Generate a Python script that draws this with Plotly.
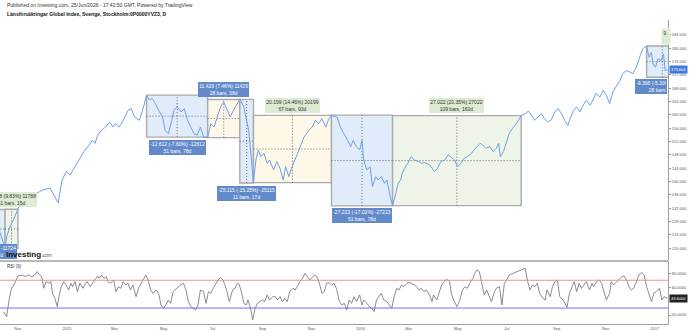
import pandas as pd
import plotly.graph_objects as go

BASE_DATE = "2015-01-01"   # day offsets below are counted from this date

# ---------------- price (close) ----------------
price_day = [-92, -88, -84, -80, -77, -75, -71, -65, -61, -58, -55, -46, -37, -30, -21, -11, -6, -1, 4, 10,
             15, 21, 26, 32, 35, 38, 43, 48, 53, 57, 60, 65, 70, 76, 80, 84, 90, 93, 96, 99,
             102, 106, 110, 114, 119, 122, 126, 130, 133, 137, 142, 146, 150, 154, 158, 162, 166, 170, 175, 179,
             183, 187, 191, 195, 199, 203, 207, 212, 215, 220, 223, 226, 228, 230, 232, 235, 238, 241, 245, 249,
             252, 257, 261, 265, 269, 272, 276, 280, 283, 287, 291, 295, 301, 305, 309, 313, 317, 322, 325, 329,
             332, 336, 340, 345, 349, 353, 356, 360, 364, 367, 369, 373, 377, 380, 384, 387, 391, 395, 398, 402,
             405, 409, 412, 415, 417, 420, 424, 428, 432, 437, 441, 445, 449, 453, 457, 461, 465, 470, 474, 477,
             482, 486, 490, 494, 498, 503, 506, 510, 514, 517, 521, 526, 530, 534, 537, 539, 543, 547, 550, 554,
             559, 565, 570, 574, 578, 582, 586, 590, 594, 598, 602, 607, 611, 615, 619, 623, 626, 630, 634, 638,
             642, 646, 651, 655, 658, 663, 667, 671, 675, 679, 684, 688, 691, 696, 700, 704, 708, 712, 716, 721,
             724, 727, 729, 732, 735, 739, 742, 744, 747]
price_val = [131600, 128800, 125200, 121800, 119920, 123400, 126400, 129400, 131710, 133600, 134500, 135400, 136600, 137500, 138100, 133600, 140500, 143000, 142000, 144500,
             146500, 149000, 150500, 152400, 151500, 153900, 155400, 156400, 157900, 156400, 157400, 156400, 158400, 161400, 161900, 159400, 158400, 160400, 163000, 165950,
             164600, 164900, 163400, 161400, 159400, 155400, 154400, 157900, 161400, 162400, 160900, 161900, 158400, 156400, 154400, 153900, 156400, 153400, 153200, 157400,
             156400, 159400, 162400, 163900, 161400, 159400, 161400, 163400, 164690, 162400, 158400, 155400, 150500, 144500, 139690, 146500, 149500, 147500, 148500, 145500,
             146500, 143500, 146000, 144000, 140500, 144500, 141500, 144500, 146500, 148500, 151000, 153400, 155400, 156400, 158400, 157400, 158900, 156400, 158400, 159950,
             159600, 159400, 156400, 153900, 152400, 150500, 152400, 150500, 149500, 152400, 146500, 143500, 144500, 138500, 141500, 140500, 141500, 139500, 140500, 135500,
             132790, 136500, 139500, 140500, 142500, 144000, 145500, 147500, 146500, 146000, 145500, 145700, 145300, 144500, 143000, 144000, 146000, 146500, 148000, 147500,
             146500, 144500, 145500, 147000, 147500, 148500, 149500, 150500, 151500, 151000, 150000, 150500, 149000, 150000, 151500, 147500, 149000, 152400, 154400, 155900,
             157400, 159812, 160400, 161200, 159900, 158400, 159400, 160400, 158900, 157900, 158400, 160900, 161900, 160400, 158400, 156900, 158900, 161400, 162400, 160900,
             162900, 164400, 162900, 164900, 166400, 165400, 167400, 165900, 163400, 166900, 168900, 170400, 172400, 173300, 172900, 172400, 174300, 177300, 179800, 180690,
             177300, 178800, 175300, 174300, 176800, 176300, 178300, 173300, 173604]

# ---------------- RSI (9) ----------------
rsi_day = [-79, -75, -72, -69, -66, -63, -61, -56, -52, -48, -44, -40, -37, -34, -31, -29, -26, -23, -20, -18,
           -15, -12, -10, -7, -4, -1, 2, 5, 7, 10, 13, 16, 20, 22, 25, 29, 32, 35, 38, 40,
           43, 46, 49, 51, 54, 58, 61, 64, 67, 70, 73, 76, 79, 82, 86, 89, 92, 95, 98, 101,
           104, 107, 111, 114, 117, 120, 123, 126, 129, 132, 136, 138, 141, 145, 148, 151, 154, 157, 160, 163,
           166, 170, 173, 176, 179, 182, 185, 188, 191, 194, 198, 202, 206, 209, 212, 214, 217, 220, 223, 225,
           228, 231, 234, 237, 240, 243, 246, 249, 252, 256, 259, 262, 265, 268, 271, 274, 277, 281, 284, 286,
           290, 293, 296, 299, 302, 306, 308, 311, 314, 317, 320, 323, 326, 329, 332, 335, 339, 342, 345, 348,
           351, 354, 357, 360, 364, 367, 369, 373, 376, 379, 382, 385, 388, 391, 394, 398, 401, 404, 407, 410,
           413, 416, 419, 423, 426, 429, 432, 435, 438, 441, 444, 447, 451, 454, 456, 460, 463, 466, 469, 472,
           476, 478, 481, 485, 488, 492, 495, 498, 501, 505, 507, 510, 513, 516, 519, 522, 525, 528, 531, 534,
           538, 541, 544, 547, 550, 553, 556, 559, 563, 566, 570, 573, 576, 579, 582, 585, 588, 592, 595, 597,
           601, 604, 607, 610, 613, 617, 619, 622, 625, 628, 631, 634, 637, 640, 643, 646, 650, 653, 655, 659,
           662, 665, 668, 671, 675, 677, 680, 684, 687, 690, 693, 696, 699, 702, 705, 709, 712, 715, 718, 721,
           724, 727, 730, 733, 737, 740, 743, 746, 747]
rsi_val = [24.8, 17.6, 41.6, 58.4, 63.2, 72.8, 76.2, 77.6, 75.2, 77.6, 75.2, 77.6, 82.4, 77.6, 74.2, 58.4, 68.0, 65.6, 68.0, 51.2,
           44.0, 32.0, 46.4, 60.8, 68.0, 63.2, 56.0, 65.6, 60.8, 68.0, 53.6, 65.6, 58.4, 63.2, 68.0, 60.8, 65.6, 70.4, 76.2, 72.8,
           77.6, 72.8, 75.2, 68.0, 65.6, 70.4, 53.6, 60.8, 58.4, 68.0, 63.2, 65.6, 56.0, 63.2, 46.4, 58.4, 65.6, 72.8, 77.6, 70.4,
           56.0, 51.2, 56.0, 51.2, 34.4, 29.6, 34.4, 41.6, 36.8, 53.6, 58.4, 60.8, 63.2, 65.6, 56.0, 39.2, 32.0, 29.6, 27.2, 34.4,
           56.0, 53.6, 36.8, 53.6, 51.2, 58.4, 65.6, 70.4, 74.2, 70.4, 58.4, 39.2, 56.0, 58.4, 65.6, 64.6, 53.6, 36.8, 34.4, 41.6,
           32.0, 12.9, 29.6, 36.8, 39.2, 41.6, 39.2, 48.8, 41.6, 46.4, 46.4, 41.6, 46.4, 39.2, 44.0, 39.2, 53.6, 58.4, 56.0, 60.8,
           68.0, 72.8, 80.0, 75.2, 70.4, 75.2, 77.6, 75.2, 65.6, 51.2, 53.6, 65.6, 66.6, 63.2, 65.6, 58.4, 39.2, 34.4, 36.8, 27.2,
           41.6, 36.8, 46.4, 39.2, 48.8, 34.4, 41.6, 36.8, 32.0, 29.6, 24.8, 41.6, 46.4, 51.2, 41.6, 39.2, 34.4, 29.6, 46.4, 58.4,
           56.0, 63.2, 60.8, 65.6, 67.0, 65.6, 63.2, 60.8, 56.0, 58.4, 53.6, 56.0, 48.8, 39.2, 48.8, 41.6, 53.6, 63.2, 68.0, 71.4,
           68.0, 51.2, 41.6, 32.0, 39.2, 56.0, 60.8, 58.4, 65.6, 72.8, 80.0, 84.8, 82.4, 65.6, 48.8, 56.0, 46.4, 39.2, 51.2, 58.4,
           60.8, 34.4, 65.6, 70.4, 77.6, 79.0, 81.0, 82.4, 83.8, 85.8, 87.2, 68.0, 56.0, 63.2, 60.8, 65.6, 51.2, 44.0, 41.6, 56.0,
           46.4, 60.8, 68.0, 70.4, 46.4, 41.6, 36.8, 31.1, 51.2, 60.8, 68.0, 53.6, 65.6, 58.4, 63.2, 68.0, 56.0, 65.6, 60.8, 68.0,
           70.4, 65.6, 53.6, 41.6, 51.2, 68.0, 63.2, 68.0, 72.8, 75.2, 76.2, 70.4, 60.8, 56.0, 58.4, 70.4, 79.0, 81.0, 77.6, 60.8,
           48.8, 39.2, 51.2, 53.6, 58.4, 41.6, 46.4, 44.0, 43.6]

# ---------------- date/price range measurements ----------------
box_start_day = [-124, -77, 99, 175, 215, 232, 329, 405, 721]
box_end_day = [-77, -61, 175, 215, 232, 329, 405, 565, 760]
box_start_val = [131640, 119920, 165950, 153200, 164690, 139690, 159950, 132790, 180690]
box_end_val = [119920, 131710, 153338, 164629, 139575, 159889, 132727, 159812, 171294]
box_text_1 = ["-11.724 (-8.91%) -11724", "11.788 (9.83%) 11788", "-12.612 (-7.60%) -12612",
              "11.429 (7.46%) 11429", "-25.115 (-15.25%) -25115", "20.199 (14.46%) 20199",
              "-27.223 (-17.02%) -27223", "27.022 (20.35%) 27022", "-9.396 (-5.20%) -9396"]
box_text_2 = ["33 bars, 47d", "11 bars, 15d", "51 bars, 78d", "28 bars, 38d", "11 bars, 17d",
              "67 bars, 93d", "51 bars, 78d", "109 bars, 160d", "28 bars, 39d"]
edge_label_text = "9."

# axis labels
price_ticks = list(range(120000, 188000, 4000))
price_ticktext = [f"{v // 1000} 000" for v in price_ticks]
month_tickvals = ["2014-11-01", "2015-01-01", "2015-03-01", "2015-05-01", "2015-07-01", "2015-09-01",
                  "2015-11-01", "2016-01-01", "2016-03-01", "2016-05-01", "2016-07-01", "2016-09-01",
                  "2016-11-01", "2017-01-01"]
month_ticktext = ["Nov", "2015", "Mar", "May", "Jul", "Sep", "Nov", "2016", "Mar", "May", "Jul", "Sep", "Nov", "2017"]
rsi_ticks = [20, 60, 80]
rsi_ticktext = ["20.0000", "60.0000", "80.0000"]

# ---------------- styles ----------------
FONT = "Liberation Sans, Arial, sans-serif"
box_fill = ["blue", "green", "blue", "yellow", "blue", "yellow", "blue", "green", "blue"]
label_style = ["blue", "green", "blue", "blue", "blue", "green", "blue", "green", "blue"]
label_side = ["below", "above", "below", "above", "below", "above", "below", "above", "below"]
FILLS = {"blue": "#e1ecfb", "yellow": "#fdf8e8", "green": "#eef5e8"}
LBG = {"blue": ("#6289c9", "#ffffff"), "green": ("#dcebd2", "#333333")}
DOT = dict(color="#6a6a6a", width=1, dash="1px,2px")

base = pd.Timestamp(BASE_DATE)


def to_date(d):
    return (base + pd.Timedelta(days=float(d))).strftime("%Y-%m-%d %H:%M")


px_dates = [to_date(d) for d in price_day]
rsi_dates = [to_date(d) for d in rsi_day]

fig = go.Figure()
fig.add_trace(go.Scatter(x=px_dates, y=price_val, mode="lines", line=dict(color="#6f9fe8", width=1),
                         xaxis="x", yaxis="y", hoverinfo="skip"))
fig.add_trace(go.Scatter(x=rsi_dates, y=rsi_val, mode="lines", line=dict(color="#6e6e6e", width=0.8),
                         xaxis="x", yaxis="y2", hoverinfo="skip"))

shapes = []
annotations = []
for i in range(len(box_start_day)):
    s, e = box_start_day[i], box_end_day[i]
    v0, v1 = box_start_val[i], box_end_val[i]
    lo, hi = min(v0, v1), max(v0, v1)
    mid_d = (s + e) / 2
    mid_v = (v0 + v1) / 2
    shapes.append(dict(type="rect", xref="x", yref="y", x0=to_date(s), x1=to_date(e), y0=lo, y1=hi,
                       fillcolor=FILLS[box_fill[i]], line=dict(color="#aaaaaa", width=1.4), layer="below"))
    shapes.append(dict(type="line", xref="x", yref="y", x0=to_date(mid_d), x1=to_date(mid_d), y0=lo, y1=hi,
                       line=DOT, layer="below"))
    shapes.append(dict(type="line", xref="x", yref="y", x0=to_date(s), x1=to_date(e), y0=mid_v, y1=mid_v,
                       line=DOT, layer="below"))
    bg, fc = LBG[label_style[i]]
    txt = box_text_1[i] + "<br>" + box_text_2[i]
    above = label_side[i] == "above"
    common = dict(showarrow=False, bgcolor=bg, bordercolor=bg, borderwidth=0, borderpad=1.2,
                  font=dict(family=FONT, size=5, color=fc), align="center")
    if i == 0:
        # measurement that starts left of the visible window
        annotations.append(dict(text=txt, xref="paper", x=-11 / 668, xanchor="center",
                                yref="paper", y=(324 - 244) / 304, yanchor="top", **common))
    elif i == 8:
        # label cut by the price scale
        c = dict(common)
        c["align"] = "left"
        annotations.append(dict(text=box_text_1[i] + "<br>" + "\u00a0" * 9 + box_text_2[i],
                                xref="paper", x=635 / 668, xanchor="left", width=30,
                                yref="y", y=lo, yanchor="top", yshift=-1.5, **c))
    else:
        annotations.append(dict(text=txt, xref="x", x=to_date(mid_d), xanchor="center",
                                yref="y", y=hi if above else lo, yanchor="bottom" if above else "top",
                                yshift=2.5 if above else -2.5, **common))

# truncated label at top right (measurement beyond the window)
annotations.append(dict(text=edge_label_text + "<br>\u00a0", xref="paper", x=660.5 / 668, xanchor="left",
                        width=5.5, align="left", yref="paper", y=(324 - 28) / 304, yanchor="top",
                        showarrow=False, bgcolor="#dcebd2", borderpad=1.2,
                        font=dict(family=FONT, size=5, color="#333333")))

# RSI guide lines and pane separators
shapes.append(dict(type="line", xref="paper", yref="y2", x0=0, x1=1, y0=70, y1=70,
                   line=dict(color="#f28f8f", width=1)))
shapes.append(dict(type="line", xref="paper", yref="y2", x0=0, x1=1, y0=30, y1=30,
                   line=dict(color="#6f6ff0", width=1)))
shapes.append(dict(type="line", xref="paper", yref="paper", x0=0, x1=1, y0=(324 - 261) / 304, y1=(324 - 261) / 304,
                   line=dict(color="#a0a0a0", width=1.6)))

# header texts
annotations.append(dict(text="Published on Investing.com, 25/Jun/2026 - 17:42:50 GMT, Powered by TradingView",
                        xref="paper", yref="paper", x=5 / 668, y=(324 - 5.5) / 304, xanchor="left", yanchor="middle",
                        showarrow=False, font=dict(family=FONT, size=5, color="#333333")))
annotations.append(dict(text="<b>Länsförsäkringar Global Index, Sverige, Stockholm:0P0000YVZ3, D</b>",
                        xref="paper", yref="paper", x=5 / 668, y=(324 - 14.5) / 304, xanchor="left", yanchor="middle",
                        showarrow=False, font=dict(family=FONT, size=5, color="#111111")))
annotations.append(dict(text="RSI (9)", xref="paper", yref="paper", x=5 / 668, y=(324 - 266) / 304,
                        xanchor="left", yanchor="middle", showarrow=False,
                        font=dict(family=FONT, size=4.5, color="#333333")))
annotations.append(dict(text="<b>Investing</b><span style='font-size:5px;color:#555555'>.com</span>",
                        xref="paper", yref="paper", x=4 / 668, y=(324 - 254) / 304, xanchor="left", yanchor="middle",
                        showarrow=False, font=dict(family=FONT, size=8, color="#111111")))

# last value badges
annotations.append(dict(text=f"{price_val[-1] / 1000:.3f}", xref="paper", x=1, xanchor="left", xshift=1,
                        yref="y", y=price_val[-1], yanchor="middle", showarrow=False, bgcolor="#3d7be0",
                        borderpad=1, font=dict(family=FONT, size=4, color="#ffffff")))
annotations.append(dict(text=f"{rsi_val[-1]:.4f}", xref="paper", x=1, xanchor="left", xshift=1,
                        yref="y2", y=rsi_val[-1], yanchor="middle", showarrow=False, bgcolor="#222222",
                        borderpad=1, font=dict(family=FONT, size=4, color="#ffffff")))

x_range = [(base + pd.Timedelta(days=-83.3)).strftime("%Y-%m-%d %H:%M"),
           (base + pd.Timedelta(days=747.6)).strftime("%Y-%m-%d %H:%M")]

fig.update_layout(
    width=690, height=332,
    margin=dict(l=0, r=22, t=20, b=8, pad=0),
    paper_bgcolor="white", plot_bgcolor="white",
    showlegend=False,
    shapes=shapes, annotations=annotations,
    xaxis=dict(type="date", range=x_range, anchor="y2", showgrid=False, zeroline=False,
               tickvals=month_tickvals, ticktext=month_ticktext, ticks="", showline=True,
               linecolor="#a0a0a0", linewidth=1, tickfont=dict(family=FONT, size=4, color="#555555")),
    yaxis=dict(domain=[(324 - 260) / 304, 1], range=[116490, 188490], side="right", anchor="x",
               showgrid=False, zeroline=False, tickvals=price_ticks, ticktext=price_ticktext,
               ticks="outside", ticklen=2, tickcolor="#999999", showline=True, linecolor="#a0a0a0",
               tickfont=dict(family=FONT, size=4, color="#555555")),
    yaxis2=dict(domain=[0, (324 - 261) / 304], range=[7.05, 97.7], side="right", anchor="x",
                showgrid=False, zeroline=False, tickvals=rsi_ticks, ticktext=rsi_ticktext,
                ticks="outside", ticklen=2, tickcolor="#999999", showline=True, linecolor="#a0a0a0",
                tickfont=dict(family=FONT, size=4, color="#555555")),
)

fig.write_html("out.html", config={"displayModeBar": False})
